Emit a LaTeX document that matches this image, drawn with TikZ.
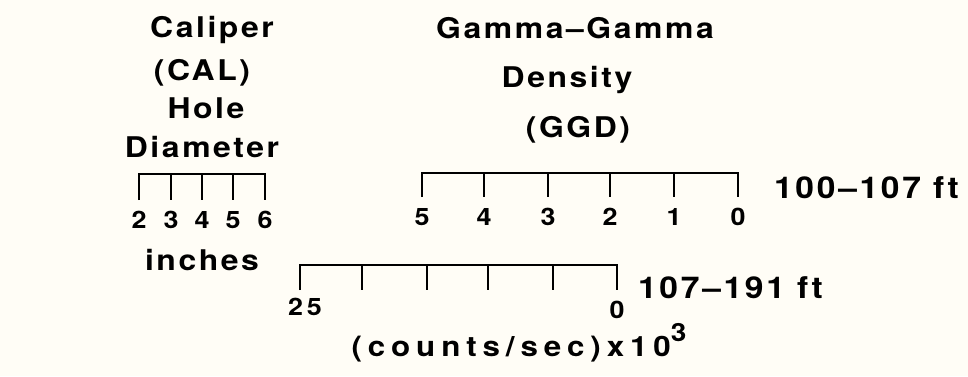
\documentclass[tikz,border=0pt]{standalone}
\usepackage{fontspec}
\setmainfont{TeX Gyre Heros}[LetterSpace=9,FakeStretch=1.12]
\definecolor{paper}{HTML}{FFFDF6}
\begin{document}
\begin{tikzpicture}[x=1pt,y=-1pt,line width=2.2pt,
  title/.style={anchor=base,inner sep=0pt,font=\fontsize{28.5}{30}\selectfont\bfseries},
  ticklabel/.style={anchor=base,inner sep=0pt,font=\fontsize{24}{26}\selectfont\bfseries},
  rangelabel/.style={anchor=base west,inner sep=0pt,font=\fontsize{30}{32}\selectfont\bfseries}]
  \useasboundingbox[fill=paper] (0,0) rectangle (968,376);
  % caliper
  \node[title] (calA) at (212,37) {Caliper};
  \node[title] (calB) at (202,80) {(CAL)};
  \node[title] (calC) at (206,118) {Hole};
  \node[title] (calD) at (202,157) {Diameter};
  \coordinate (calL) at (139,174); \coordinate (calR) at (265,174);
  \draw (calL) ++(0,26) -- (calL) -- (calR) -- ++(0,26);
  \foreach \x in {171,202,233} \draw (\x,174) -- (\x,200);
  \foreach \x/\v in {139/2,171/3,202/4,233/5,265/6}
    \node[ticklabel] (cal\v) at (\x,228.5) {\v};
  \node[title] (calunit) at (202,270) {inches};
  % gamma-gamma density
  \node[title] (ggdA) at (575,38) {Gamma–Gamma};
  \node[title] (ggdB) at (567,87) {Density};
  \node[title] (ggdC) at (578,137) {(GGD)};
  \coordinate (topL) at (422,173); \coordinate (topR) at (738,173);
  \draw (topL) ++(0,24) -- (topL) -- (topR) -- ++(0,24);
  \foreach \x in {484,548,610,674} \draw (\x,173) -- (\x,197);
  \foreach \x/\v in {422/5,484/4,548/3,610/2,674/1,738/0}
    \node[ticklabel] (top\v) at (\x,225.5) {\v};
  \node[rangelabel] (toprange) at (773,198) {100–107 ft};
  \coordinate (lowL) at (300,265); \coordinate (lowR) at (617,265);
  \draw (lowL) ++(0,25) -- (lowL) -- (lowR) -- ++(0,25);
  \foreach \x in {362,427,488,553} \draw (\x,265) -- (\x,290);
  \node[ticklabel] (low25) at (305,315) {2\kern4pt5};
  \node[ticklabel] (low0) at (617,318) {0};
  \node[rangelabel] (lowrange) at (637,298) {107–191 ft};
  \node[title,font=\fontsize{28}{30}\selectfont\bfseries\addfontfeatures{LetterSpace=21}]
    (ggdunit) at (519,356) {(counts/sec)x10\raisebox{0.52em}{\fontsize{25}{27}\selectfont 3}};
\end{tikzpicture}
\end{document}
